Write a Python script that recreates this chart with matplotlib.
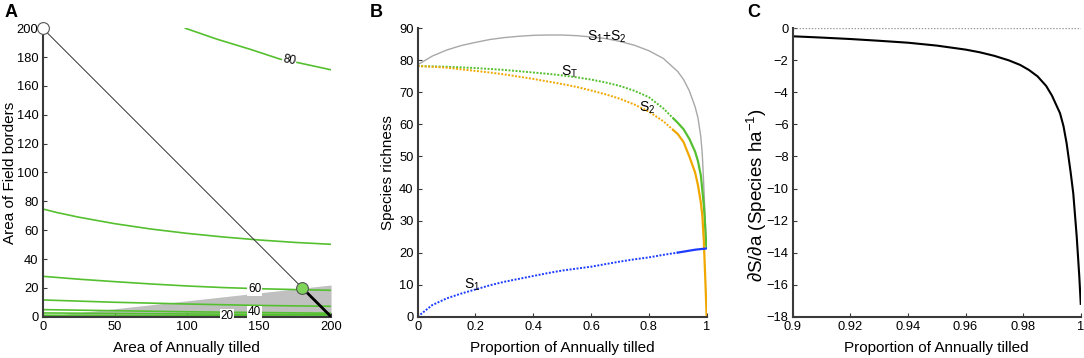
import numpy as np
import matplotlib
matplotlib.use("Agg")
import matplotlib.pyplot as plt

plt.rcParams['font.family'] = ['Liberation Sans', 'DejaVu Sans']
plt.rcParams['mathtext.fontset'] = 'custom'
plt.rcParams['mathtext.rm'] = 'Liberation Sans'
plt.rcParams['mathtext.it'] = 'Liberation Sans:italic'

# ---- Panel A: contour lines of total richness
cont_levels = [80, 70, 60, 50, 40, 30, 20]
cont_x = [
    [99, 121, 144, 165, 176, 200],
    [0, 10, 25, 50, 75, 100, 125, 150, 175, 200],
    [0, 25, 50, 75, 100, 125, 150, 175, 200],
    [0, 50, 100, 150, 200],
    [0, 100, 200],
    [0, 100, 200],
    [0, 100, 200],
]
cont_y = [
    [200, 192.4, 185.4, 178.5, 176.4, 171.2],
    [74.7, 72.2, 69.0, 64.5, 60.8, 57.8, 55.3, 53.2, 51.5, 50.2],
    [28.0, 26.0, 24.3, 22.7, 21.3, 20.2, 19.4, 18.8, 18.3],
    [11.6, 10.0, 8.8, 7.8, 7.2],
    [4.9, 3.4, 2.4],
    [2.6, 1.9, 1.3],
    [1.0, 0.7, 0.4],
]
cont_labels = {80: (171, 177.6, -11), 60: (147, 19.2, 0), 40: (147, 3.0, 0), 20: (128, 0.6, 0)}
shade_x = [0, 200]
shade_y = [0, 22]
budget_x = [0, 200]
budget_y = [200, 0]
opt_pt = (180, 20)
start_pt = (0, 200)

# ---- Panel B: species richness vs proportion annually tilled
p = [0, 0.05, 0.1, 0.15, 0.2, 0.25, 0.3, 0.35, 0.4, 0.45, 0.5, 0.55, 0.6, 0.65, 0.7,
     0.75, 0.8, 0.85, 0.9, 0.92, 0.94, 0.96, 0.97, 0.98, 0.985, 0.99, 0.993, 0.996, 0.998, 1.0]
s_sum = [78.6, 81.3, 83.2, 84.6, 85.6, 86.5, 87.1, 87.5, 87.8, 87.9, 87.9, 87.7, 87.3, 86.8, 85.9,
         84.7, 83.0, 80.6, 76.5, 74.0, 70.5, 65.5, 62.0, 56.0, 50.5, 41.0, 34.5, 28.5, 24.5, 21.6]
s_tot = [78.2, 78.1, 78.0, 77.8, 77.6, 77.3, 77.0, 76.6, 76.2, 75.8, 75.3, 74.7, 74.0, 73.1, 72.0,
         70.5, 68.5, 65.0, 60.5, 58.5, 55.5, 51.5, 48.5, 44.0, 39.5, 35.0, 31.0, 26.0, 22.5, 21.6]
s_two = [78.2, 78.0, 77.7, 77.2, 76.7, 76.2, 75.6, 74.9, 74.2, 73.4, 72.6, 71.7, 70.6, 69.4, 68.0,
         66.2, 64.0, 61.0, 57.0, 54.5, 50.0, 45.0, 41.0, 35.5, 31.5, 24.0, 17.0, 10.0, 5.0, 0.0]
s_one = [0.0, 3.6, 5.7, 7.2, 8.5, 9.8, 10.9, 11.8, 12.7, 13.6, 14.4, 15.0, 15.6, 16.4, 17.2,
         17.9, 18.5, 19.3, 20.0, 20.3, 20.6, 20.9, 21.0, 21.1, 21.15, 21.2, 21.2, 21.25, 21.3, 21.3]
p_solid = {'tot': 0.885, 'two': 0.885, 'one': 0.9}

# ---- Panel C: marginal change dS/da
pc = [0.9, 0.91, 0.92, 0.93, 0.94, 0.95, 0.96, 0.965, 0.97, 0.975, 0.979, 0.982, 0.985,
      0.988, 0.99, 0.9928, 0.994, 0.9951, 0.9965, 0.9974, 0.9986, 0.9995, 1.0]
dsda = [-0.5, -0.58, -0.67, -0.78, -0.9, -1.08, -1.33, -1.5, -1.72, -2.0, -2.29, -2.6, -3.0,
        -3.6, -4.2, -5.3, -6.1, -7.18, -9.0, -10.3, -13.0, -15.5, -17.2]

green = '#55c02f'
orange = '#f0a800'
blue = '#1c3cff'
grey = '#a8a8a8'
spine_c = '#3a3a3a'
tick_fs = 9.3
lab_fs = 11

fig = plt.figure(figsize=(10.84, 3.58), dpi=100)
axA = fig.add_axes([0.0394, 0.1154, 0.266, 0.8056])
axB = fig.add_axes([0.3853, 0.1154, 0.2666, 0.8056])
axC = fig.add_axes([0.7313, 0.1154, 0.2657, 0.8056])

for ax in (axA, axB, axC):
    ax.spines['top'].set_visible(False)
    ax.spines['right'].set_visible(False)
    ax.spines['left'].set_color(spine_c)
    ax.spines['bottom'].set_color(spine_c)
    ax.spines['left'].set_linewidth(1.5)
    ax.spines['bottom'].set_linewidth(1.5)
    ax.tick_params(direction='in', length=3, width=0.8, labelsize=tick_fs, pad=3, color=spine_c)

# A
axA.fill_between(shade_x, shade_y, 0, color='#c0c0c0', lw=0, zorder=1)
for lev, xs, ys in zip(cont_levels, cont_x, cont_y):
    axA.plot(xs, ys, color=green, lw=1.2, zorder=2)
for lev, (tx, ty, rot) in cont_labels.items():
    axA.text(tx, ty, str(lev), fontsize=8.5, ha='center', va='center', rotation=rot, zorder=3,
             bbox=dict(boxstyle='square,pad=0.05', fc='white', ec='none'))
axA.plot(budget_x, budget_y, color='#333333', lw=0.7, zorder=4)
axA.plot([opt_pt[0], budget_x[1]], [opt_pt[1], budget_y[1]], color='black', lw=2, zorder=4)
axA.plot(*start_pt, 'o', ms=8.5, mfc='white', mec='#555555', mew=0.8, clip_on=False, zorder=5)
axA.plot(*opt_pt, 'o', ms=8.5, mfc='#7fd45a', mec='#555555', mew=0.8, clip_on=False, zorder=5)
axA.set_xlim(0, 200)
axA.set_ylim(0, 200)
axA.set_xticks(np.arange(0, 201, 50))
axA.set_yticks(np.arange(0, 201, 20))
axA.set_xlabel('Area of Annually tilled', fontsize=lab_fs)
axA.set_ylabel('Area of Field borders', fontsize=lab_fs)

# B
p = np.array(p)
dot = (0, (1, 0.8))
axB.plot(p, s_sum, color=grey, lw=1.0)
for key, ys, c in (('tot', s_tot, green), ('two', s_two, orange), ('one', s_one, blue)):
    ys = np.array(ys)
    cut = p_solid[key]
    xd = np.append(p[p < cut], cut)
    yd = np.append(ys[p < cut], np.interp(cut, p, ys))
    axB.plot(xd, yd, color=c, lw=1.4, ls=dot)
    axB.plot(np.insert(p[p > cut], 0, cut), np.insert(ys[p > cut], 0, yd[-1]), color=c, lw=1.6)
axB.text(0.655, 87.3, 'S$_1$+S$_2$', fontsize=10, ha='center', va='center')
axB.text(0.525, 76.3, 'S$_\\mathrm{T}$', fontsize=10, ha='center', va='center')
axB.text(0.795, 65.2, 'S$_2$', fontsize=10, ha='center', va='center')
axB.text(0.19, 9.8, 'S$_1$', fontsize=10, ha='center', va='center')
axB.set_xlim(0, 1)
axB.set_ylim(0, 90)
axB.set_xticks([0, 0.2, 0.4, 0.6, 0.8, 1])
axB.set_xticklabels(['0', '0.2', '0.4', '0.6', '0.8', '1'])
axB.set_yticks(np.arange(0, 91, 10))
axB.set_xlabel('Proportion of Annually tilled', fontsize=lab_fs)
axB.set_ylabel('Species richness', fontsize=lab_fs)

# C
axC.axhline(0, color='#999999', lw=1.0, ls=(0, (1, 1.2)))
axC.plot(pc, dsda, color='black', lw=1.5)
axC.set_xlim(0.9, 1)
axC.set_ylim(-18, 0)
axC.set_xticks([0.9, 0.92, 0.94, 0.96, 0.98, 1])
axC.set_xticklabels(['0.9', '0.92', '0.94', '0.96', '0.98', '1'])
axC.set_yticks(np.arange(-18, 1, 2))
axC.set_xlabel('Proportion of Annually tilled', fontsize=lab_fs)
axC.set_ylabel('$\\partial$S/$\\partial$a (Species ha$^{-1}$)', fontsize=13.5)

axA.yaxis.set_label_coords(-0.09, 0.5)
axB.yaxis.set_label_coords(-0.08, 0.5)
axC.yaxis.set_label_coords(-0.083, 0.42)
for ax in (axA, axB, axC):
    ax.xaxis.set_label_coords(0.5, -0.083)

for lx, letter in ((5, 'A'), (370, 'B'), (747, 'C')):
    fig.text(lx / 1084, 1 - 17 / 358, letter, fontsize=13, fontweight='bold', va='baseline')

fig.savefig('out.png', dpi=100)
